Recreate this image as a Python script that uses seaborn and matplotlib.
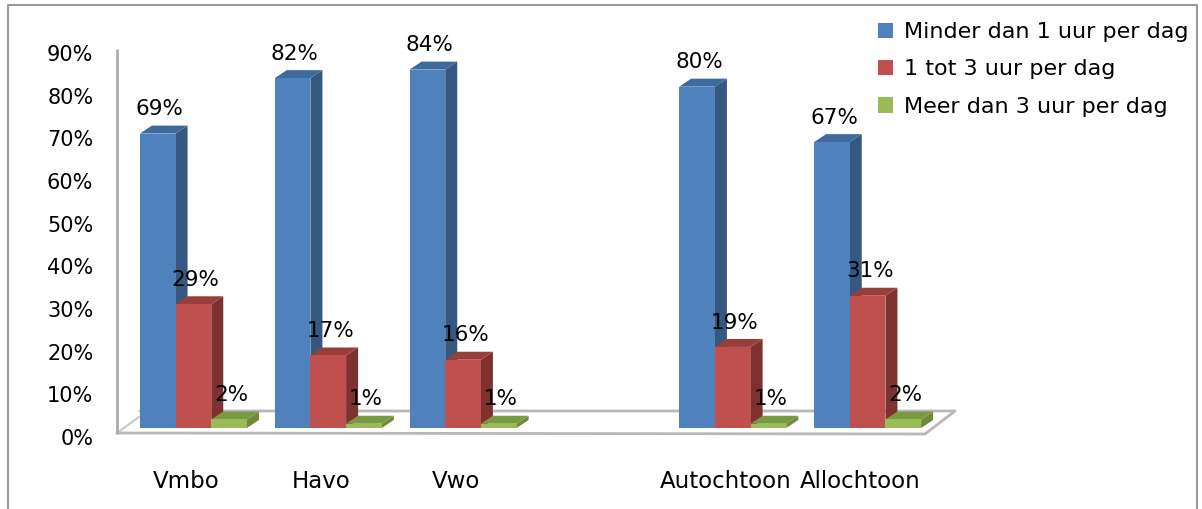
import matplotlib
matplotlib.use('Agg')
import matplotlib.pyplot as plt
from matplotlib.patches import Polygon
from matplotlib.transforms import ScaledTranslation
import pandas as pd
import seaborn as sns

# values, empty slot separates the two blocks
groups = ['Vmbo', 'Havo', 'Vwo', ' ', 'Autochtoon', 'Allochtoon']
minder_dan_1 = [69, 82, 84, None, 80, 67]
een_tot_3 = [29, 17, 16, None, 19, 31]
meer_dan_3 = [2, 1, 1, None, 1, 2]
series_names = ['Minder dan 1 uur per dag', '1 tot 3 uur per dag', 'Meer dan 3 uur per dag']

front_colors = ['#4F81BD', '#C0504D', '#9BBB59']
side_colors = ['#34587F', '#7E3230', '#6F8B3A']
top_colors = ['#3F6A9E', '#9A3E3B', '#7A9A42']

W, H = 1202, 509
DEPTH_X, DEPTH_Y = 12, 8  # 3D offset in pixels


def fx(px):
    return px / W


def fy(py):
    return 1 - py / H


sns.set_style('white', rc={'text.color': 'black', 'xtick.color': 'black', 'ytick.color': 'black'})
plt.rcParams['font.family'] = ['DejaVu Sans']

df = pd.DataFrame({'group': groups, series_names[0]: minder_dan_1,
                   series_names[1]: een_tot_3, series_names[2]: meer_dan_3})
long_df = df.melt(id_vars='group', var_name='serie', value_name='pct')

fig = plt.figure(figsize=(W / 100, H / 100), dpi=100)
ax = fig.add_axes([fx(126), fy(428), fx(935) - fx(126), fy(44) - fy(428)])
ax.patch.set_alpha(0)

sns.barplot(data=long_df, x='group', y='pct', hue='serie', order=groups,
            hue_order=series_names, palette=front_colors, width=0.794,
            saturation=1, gap=0, ax=ax, zorder=3, linewidth=0)
ax.set_ylim(0, 90)
ax.set_xlim(-0.5, 5.5)
ax.set_xlabel('')
ax.set_ylabel('')
ax.set_yticks(range(0, 100, 10))
ax.set_yticklabels([f'{v}%' for v in range(0, 100, 10)])
sns.despine(ax=ax, left=True, bottom=True)
ax.tick_params(axis='y', length=0, pad=23.5, labelsize=15)
ax.tick_params(axis='x', length=0, pad=30, labelsize=16.5)

# labels sit a bit off the bars because the original is 3D
shift_y = ScaledTranslation(0, -9 / 100, fig.dpi_scale_trans)
shift_x = ScaledTranslation(-7.5 / 100, 0, fig.dpi_scale_trans)
for lab in ax.get_yticklabels():
    lab.set_transform(lab.get_transform() + shift_y)
for lab in ax.get_xticklabels():
    lab.set_transform(lab.get_transform() + shift_x)

# depth of bars: pixels to data units
dx = DEPTH_X * 6 / (935 - 126)
dy = DEPTH_Y * 90 / (428 - 44)
for i, cont in enumerate(ax.containers):
    for bar in cont:
        h = bar.get_height()
        if not h == h or h == 0:
            continue
        x0, x1 = bar.get_x(), bar.get_x() + bar.get_width()
        ax.add_patch(Polygon([(x1, 0), (x1 + dx, dy), (x1 + dx, h + dy), (x1, h)],
                             fc=side_colors[i], lw=0, zorder=2 + i * 0.1, clip_on=False))
        ax.add_patch(Polygon([(x0, h), (x0 + dx, h + dy), (x1 + dx, h + dy), (x1, h)],
                             fc=top_colors[i], lw=0, zorder=2 + i * 0.1, clip_on=False))
        ax.annotate(f'{h:.0f}%', ((x0 + x1) / 2, h), xytext=(1.5, 17.5),
                    textcoords='offset points', ha='center', va='center',
                    fontsize=15.5, color='black', zorder=6, annotation_clip=False)

# floor, wall and outer frame
grey = '#ABABAB'
fig_tr = fig.transFigure
ax.plot([fx(117), fx(925), fx(955), fx(140)], [fy(433), fy(434), fy(411), fy(411)],
        color='#B8B8B8', lw=2, transform=fig_tr, clip_on=False, zorder=1)
ax.plot([fx(117), fx(139)], [fy(433), fy(417)], color='#C8C8C8', lw=1.5,
        transform=fig_tr, clip_on=False, zorder=1)
ax.plot([fx(117), fx(117)], [fy(50), fy(433)], color=grey, lw=2,
        transform=fig_tr, clip_on=False, zorder=1)
ax.plot([fx(8), fx(8), fx(1197), fx(1197)], [fy(509), fy(5), fy(5), fy(509)],
        color='#9A9A9A', lw=1.5, transform=fig_tr, clip_on=False, zorder=1)

sns.move_legend(ax, 'upper left', bbox_to_anchor=(fx(878), fy(22)),
                bbox_transform=fig_tr, frameon=False, title=None, fontsize=16,
                handlelength=0.68, handleheight=0.68, labelspacing=0.785,
                handletextpad=0.5, borderpad=0, borderaxespad=0)

fig.savefig('out.png', dpi=100)
